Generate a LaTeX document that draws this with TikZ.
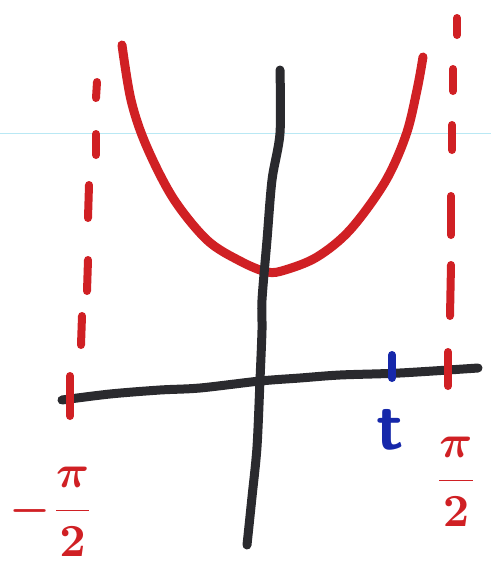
\documentclass[tikz,border=0pt]{standalone}
\definecolor{pen red}{RGB}{208,32,36}
\definecolor{pen black}{RGB}{42,42,46}
\definecolor{pen blue}{RGB}{22,40,170}
\definecolor{rule cyan}{RGB}{185,232,244}
\tikzset{
  redline/.style={draw=pen red, line width=9pt, line cap=round, line join=round},
  dashseg/.style={draw=pen red, line width=8pt, line cap=round},
  axisline/.style={draw=pen black, line width=9pt, line cap=round, line join=round},
  bluetick/.style={draw=pen blue, line width=8pt, line cap=round},
  redlabel/.style={text=pen red, inner sep=0pt, scale=4.6},
  bluelabel/.style={text=pen blue, inner sep=0pt, scale=6.8, font=\bfseries\sffamily}
}
\begin{document}
\begin{tikzpicture}[x=1pt,y=-1pt]
\useasboundingbox[fill=white] (0,0) rectangle (491,571);
% faint ruled line of the paper
\draw[rule cyan, line width=1pt] (0,133) -- (491,133);
% left asymptote (dashed)
\draw[dashseg] (97,82) -- (96,98);
\draw[dashseg] (96,134) -- (96,155);
\draw[dashseg] (89,185) -- (88,218);
\draw[dashseg] (88,260) -- (87,291);
\draw[dashseg] (82,316) -- (81,345);
% right asymptote (dashed)
\draw[dashseg] (457,18) -- (457,35);
\draw[dashseg] (453,69) -- (453,91);
\draw[dashseg] (452,125) -- (452,150);
\draw[dashseg] (451,196) -- (451,235);
\draw[dashseg] (451,265) -- (450,316);
% secant curve
\draw[redline] plot[smooth, tension=0.55] coordinates {(122,45) (131,100) (146,145) (173,198) (207,240) (240,261) (267,272) (285,270) (317,257) (350,230) (385,182) (406,135) (417,90) (423,57)};
% axes
\draw[axisline] plot[smooth, tension=0.5] coordinates {(280,70) (280,133) (272,180) (267,240) (262,300) (262,330) (260,380) (257,447) (252,497) (247,545)};
\draw[axisline] plot[smooth, tension=0.5] coordinates {(62,400) (110,394) (160,390) (200,388) (260,381) (300,378) (340,375) (400,373) (478,368)};
% tick marks
\draw[dashseg] (70,376) -- (70,416);
\draw[dashseg] (448,352) -- (448,386);
\draw[bluetick] (392,355) -- (392,378);
% labels
\node[redlabel] (lminus) at (52,512) {{\boldmath$\displaystyle-\frac{\pi}{2}$}};
\node[redlabel] (rplus) at (456,482) {{\boldmath$\displaystyle\frac{\pi}{2}$}};
\node[bluelabel] (tlab) at (390,430) {t};
\end{tikzpicture}
\end{document}
